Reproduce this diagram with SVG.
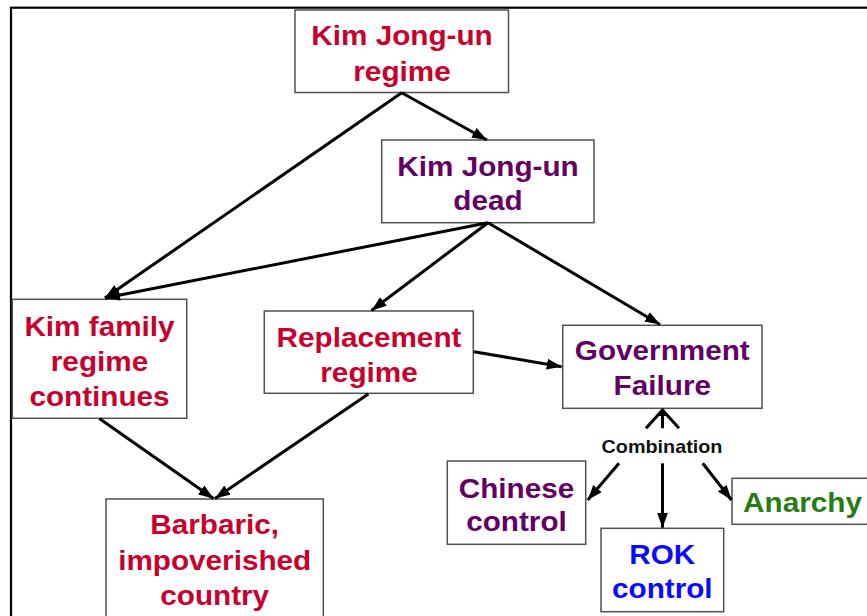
<svg xmlns="http://www.w3.org/2000/svg" width="867" height="616" viewBox="0 0 867 616">
<style>
.box{fill:#fff;stroke:#505050;stroke-width:1.5}
.t{font-family:"Liberation Sans",Arial,sans-serif;font-weight:bold;font-size:27px;text-anchor:middle}
.red{fill:#c8002d}
.pur{fill:#640064}
.blu{fill:#0a0aff}
.grn{fill:#267d12}
.lbl{font-family:"Liberation Sans",Arial,sans-serif;font-weight:bold;font-size:18px;text-anchor:middle;fill:#111}
.c{stroke:#000;stroke-width:3;fill:none;marker-end:url(#ah)}
.w{stroke:#000;stroke-width:3;fill:none;stroke-linejoin:miter}
</style>
<defs>
<marker id="ah" markerUnits="userSpaceOnUse" markerWidth="17" markerHeight="13" refX="15" refY="6" orient="auto">
<path d="M0,0.5 L15,6 L0,11.5 z" fill="#000"/>
</marker>
</defs>
<rect width="867" height="616" fill="#fff"/>
<rect x="11" y="7.7" width="900" height="700" fill="none" stroke="#000" stroke-width="2.2"/>

<g id="n1"><rect class="box" x="295" y="10" width="213.5" height="82.5"/>
<text class="t red" transform="translate(402,0) scale(1.1,1)"><tspan x="0" y="45">Kim Jong-un</tspan><tspan x="0" y="81">regime</tspan></text></g>

<g id="n2"><rect class="box" x="381.7" y="140" width="212.3" height="82.7"/>
<text class="t pur" transform="translate(488,0) scale(1.1,1)"><tspan x="0" y="176.5">Kim Jong-un</tspan><tspan x="0" y="210.5">dead</tspan></text></g>

<g id="n3"><rect class="box" x="12.3" y="299.3" width="174.4" height="119"/>
<text class="t red" transform="translate(99.5,0) scale(1.1,1)"><tspan x="0" y="336.5">Kim family</tspan><tspan x="0" y="371.5">regime</tspan><tspan x="0" y="406">continues</tspan></text></g>

<g id="n4"><rect class="box" x="264.3" y="311" width="209" height="82.3"/>
<text class="t red" transform="translate(369,0) scale(1.1,1)"><tspan x="0" y="346.7">Replacement</tspan><tspan x="0" y="381.7">regime</tspan></text></g>

<g id="n5"><rect class="box" x="562.7" y="325.3" width="199.3" height="83"/>
<text class="t pur" transform="translate(662.3,0) scale(1.1,1)"><tspan x="0" y="360">Government</tspan><tspan x="0" y="395">Failure</tspan></text></g>

<g id="n6"><rect class="box" x="447.3" y="461" width="138.4" height="83.3"/>
<text class="t pur" transform="translate(516.5,0) scale(1.1,1)"><tspan x="0" y="498.3">Chinese</tspan><tspan x="0" y="531.5">control</tspan></text></g>

<g id="n7"><rect class="box" x="601" y="528.3" width="122.7" height="83.4"/>
<text class="t blu" transform="translate(662.3,0) scale(1.1,1)"><tspan x="0" y="564.5">ROK</tspan><tspan x="0" y="598.5">control</tspan></text></g>

<g id="n8"><rect class="box" x="732" y="478.3" width="150" height="46"/>
<text class="t grn" transform="translate(802.5,0) scale(1.1,1)"><tspan x="0" y="511.7">Anarchy</tspan></text></g>

<g id="n9"><rect class="box" x="106" y="499" width="217.3" height="130"/>
<text class="t red" transform="translate(214.7,0) scale(1.1,1)"><tspan x="0" y="534">Barbaric,</tspan><tspan x="0" y="569.7">impoverished</tspan><tspan x="0" y="604.7">country</tspan></text></g>

<g id="combo"><text class="lbl" transform="translate(662,0) scale(1.1,1)" x="0" y="453.3">Combination</text></g>

<g id="connectors">
<line class="c" x1="401.7" y1="92.7" x2="487" y2="140"/>
<line class="c" x1="401.7" y1="92.7" x2="105" y2="298"/>
<line class="c" x1="488" y1="222.7" x2="105" y2="298"/>
<line class="c" x1="488" y1="222.7" x2="371.5" y2="310.5"/>
<line class="c" x1="488" y1="222.7" x2="660" y2="324.5"/>
<line class="c" x1="474" y1="351.7" x2="561.7" y2="366.7"/>
<line class="c" x1="99.3" y1="418.5" x2="213.5" y2="498.5"/>
<line class="c" x1="368.3" y1="394" x2="215" y2="498.5"/>
<path class="w" d="M646,428.3 L662.5,410 L679,428.3 M662.5,428.3 L662.5,410"/>
<path d="M657.5,416 L662.5,409.5 L667.5,416 z" fill="#000"/>
<line class="c" x1="619" y1="463.3" x2="587.7" y2="500"/>
<line class="c" x1="662.5" y1="463.3" x2="662.5" y2="527.7"/>
<line class="c" x1="702.7" y1="463.3" x2="731.5" y2="500"/>
</g>
</svg>
